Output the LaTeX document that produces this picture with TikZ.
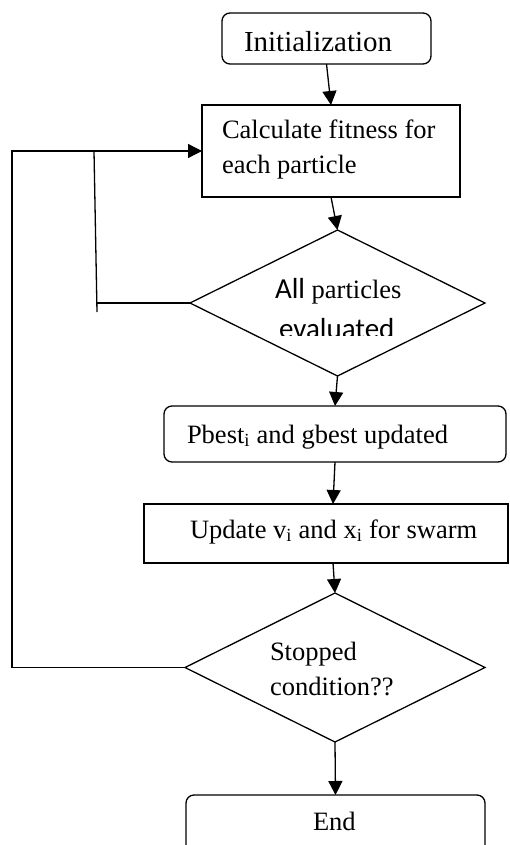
\documentclass[tikz,border=0pt]{standalone}
\usepackage{fontspec}
\setmainfont{Liberation Serif}
\newfontfamily\calfont{Carlito}
\usetikzlibrary{arrows.meta,shapes.geometric}
\begin{document}
\begin{tikzpicture}[x=1pt,y=-1pt,
  line width=1.3pt,
  every node/.style={inner sep=0pt,outer sep=0pt},
  rbox/.style={draw,rounded corners=8pt,line width=1.3pt},
  sbox/.style={draw,line width=1.3pt},
  dbox/.style={draw,diamond,line width=1.3pt},
  txt/.style={anchor=base west,font=\fontsize{26.5}{35}\selectfont},
  bigtxt/.style={anchor=base west,font=\fontsize{29}{35}\selectfont},
  arr/.style={-{Triangle[length=14pt,width=14pt]}},
  lnk/.style={line width=1.3pt}]
\useasboundingbox (0,0) rectangle (510,845);
% shapes
\node[rbox,minimum width=209pt,minimum height=51pt] (init) at (326.5,38.5) {};
\node[sbox,minimum width=258pt,minimum height=92pt] (calc) at (331,151) {};
\node[dbox,minimum width=295pt,minimum height=146pt] (d1) at (337.5,303) {};
\node[rbox,minimum width=342pt,minimum height=56pt] (pb) at (335,434) {};
\node[sbox,minimum width=364pt,minimum height=59pt] (upd) at (326,533.5) {};
\node[dbox,minimum width=300pt,minimum height=149pt] (d2) at (335,667.5) {};
\node[rbox,minimum width=299pt,minimum height=70pt] (fin) at (335.5,830) {};
% texts
\node[bigtxt] (tinit) at (244,52) {Initialization};
\node[txt] (tcalc1) at (222,139) {Calculate fitness for};
\node[txt] (tcalc2) at (222,174) {each particle};
\node[txt] (td1a) at (275,298) {{\calfont\fontsize{29}{35}\selectfont All} particles};
\begin{scope}
\clip (250,305) rectangle (430,335);
\node[bigtxt] (td1b) at (279,338) {\calfont evaluated};
\end{scope}
\node[txt] (tpb) at (187,443) {Pbest\textsubscript{i} and gbest updated};
\node[txt] (tupd) at (190,538) {Update v\textsubscript{i} and x\textsubscript{i} for swarm};
\node[txt] (td2a) at (270,660) {Stopped};
\node[txt] (td2b) at (270,695) {condition??};
\node[txt] (tend) at (313,830) {End};
% connectors
\draw[arr] (init.south) -- (calc.north);
\draw[arr] (calc.south) -- (d1.north);
\draw[arr] (d1.south) -- (pb.north);
\draw[arr] (pb.south) -- ([xshift=7pt]upd.north);
\draw[arr] ([xshift=7pt]upd.south) -- (d2.north);
\draw[arr] (d2.south) -- (fin.north);
% loops
\coordinate (lb) at (12,667.5);
\coordinate (lt) at (12,151);
\coordinate (it) at (94,151);
\coordinate (ib) at (97,312);
\coordinate (ih) at (97,303);
\draw[lnk,arr] (d2.west) -- (lb) -- (lt) -- (calc.west);
\draw[lnk] (it) -- (ib);
\draw[lnk] (d1.west) -- (ih);
\end{tikzpicture}
\end{document}
